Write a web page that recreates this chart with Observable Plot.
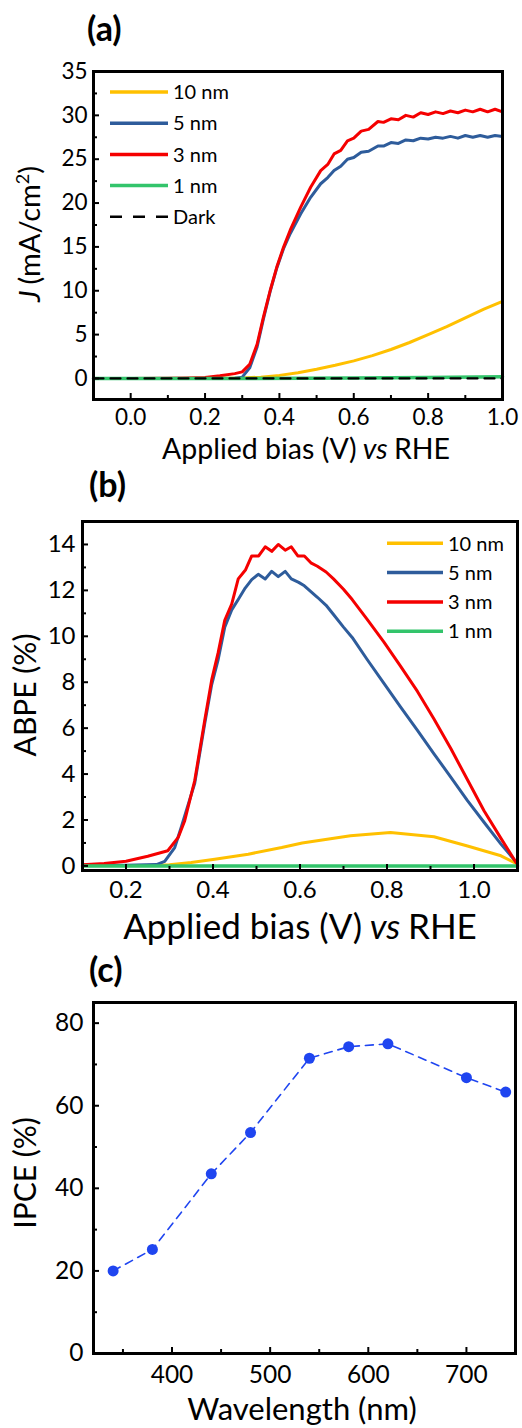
<!DOCTYPE html>
<html>
<head>
<meta charset="utf-8">
<script src="https://cdn.jsdelivr.net/npm/d3@7"></script>
<script src="https://cdn.jsdelivr.net/npm/@observablehq/plot@0.6"></script>
<style>
  body { margin: 0; background: #fff; }
  #root { position: relative; width: 522px; height: 1428px; overflow: hidden; background: #fff; }
  .panel { position: absolute; left: 0; }
</style>
</head>
<body>
<div id="root"></div>
<script>
// ---------------- Panel (a): J–V curves ----------------
const seriesNamesA = ["10 nm", "5 nm", "3 nm", "1 nm", "Dark"];
const biasA_10nm = [-0.1, 0.2, 0.3, 0.35, 0.4, 0.45, 0.5, 0.55, 0.6, 0.65, 0.7, 0.75, 0.8, 0.85, 0.9, 0.95, 1.0];
const jA_10nm    = [0, 0, 0.05, 0.15, 0.35, 0.65, 1.05, 1.5, 2.0, 2.6, 3.3, 4.1, 5.0, 5.9, 6.9, 7.9, 8.8];
const biasA_5nm = [-0.1, 0.1, 0.2, 0.28, 0.3, 0.32, 0.34, 0.357, 0.375, 0.393, 0.411, 0.429, 0.457, 0.484, 0.511, 0.53, 0.547, 0.565, 0.583, 0.6, 0.62, 0.64, 0.665, 0.68, 0.7, 0.72, 0.74, 0.76, 0.78, 0.8, 0.82, 0.84, 0.86, 0.88, 0.9, 0.92, 0.94, 0.96, 0.98, 1.0];
const jA_5nm    = [0, 0, 0, 0.02, 0.15, 1.2, 3.6, 6.8, 9.9, 12.6, 14.8, 16.5, 18.75, 20.65, 22.2, 22.9, 23.7, 24.2, 25.0, 25.2, 25.8, 25.9, 26.5, 26.5, 26.9, 26.8, 27.2, 27.1, 27.4, 27.3, 27.5, 27.4, 27.6, 27.4, 27.7, 27.5, 27.7, 27.5, 27.7, 27.6];
const biasA_3nm = [-0.1, 0.0, 0.1, 0.15, 0.2, 0.24, 0.28, 0.3, 0.32, 0.34, 0.357, 0.375, 0.393, 0.411, 0.429, 0.457, 0.484, 0.511, 0.53, 0.547, 0.565, 0.583, 0.6, 0.62, 0.64, 0.665, 0.68, 0.7, 0.72, 0.74, 0.76, 0.78, 0.8, 0.82, 0.84, 0.86, 0.88, 0.9, 0.92, 0.94, 0.96, 0.98, 1.0];
const jA_3nm    = [0, 0, 0.02, 0.05, 0.12, 0.3, 0.55, 0.75, 1.6, 3.9, 7.0, 10.0, 12.7, 14.95, 16.9, 19.5, 21.8, 23.7, 24.4, 25.6, 26.0, 27.1, 27.4, 28.2, 28.4, 29.3, 29.2, 29.6, 29.5, 30.0, 29.8, 30.3, 30.1, 30.4, 30.2, 30.5, 30.3, 30.6, 30.4, 30.7, 30.4, 30.7, 30.4];
const biasA_1nm = [-0.1, 0.3, 0.6, 0.8, 1.0];
const jA_1nm    = [0, 0, 0.05, 0.1, 0.2];
const biasA_dark = [-0.1, 1.0];
const jA_dark    = [0, 0];
const xTicksA = [0, 0.2, 0.4, 0.6, 0.8, 1.0];
const xMinorA = [-0.1, 0.1, 0.3, 0.5, 0.7, 0.9];
const yTicksA = [0, 5, 10, 15, 20, 25, 30, 35];
const yMinorA = [2.5, 7.5, 12.5, 17.5, 22.5, 27.5, 32.5];

// ---------------- Panel (b): ABPE ----------------
const seriesNamesB = ["10 nm", "5 nm", "3 nm", "1 nm"];
const biasB_10nm = [0.1, 0.25, 0.3, 0.35, 0.404, 0.481, 0.558, 0.605, 0.716, 0.808, 0.908, 0.985, 1.062, 1.1];
const abpeB_10nm = [0.02, 0.02, 0.05, 0.15, 0.29, 0.51, 0.8, 1.0, 1.31, 1.46, 1.27, 0.87, 0.44, 0.08];
const biasB_5nm = [0.1, 0.2, 0.27, 0.289, 0.312, 0.327, 0.345, 0.358, 0.381, 0.397, 0.412, 0.427, 0.443, 0.458, 0.474, 0.489, 0.504, 0.52, 0.535, 0.55, 0.566, 0.58, 0.597, 0.61, 0.625, 0.64, 0.66, 0.677, 0.7, 0.72, 0.754, 0.793, 0.831, 0.87, 0.908, 0.947, 0.985, 1.023, 1.062, 1.1];
const abpeB_5nm = [0.03, 0.03, 0.06, 0.2, 0.8, 1.68, 2.8, 3.6, 6.2, 7.9, 9.0, 10.4, 11.15, 11.6, 12.1, 12.47, 12.7, 12.5, 12.83, 12.6, 12.83, 12.5, 12.35, 12.2, 11.95, 11.7, 11.35, 10.95, 10.4, 9.95, 9.0, 7.95, 6.93, 5.9, 4.88, 3.86, 2.84, 1.9, 0.95, 0.1];
const biasB_3nm = [0.1, 0.15, 0.2, 0.25, 0.296, 0.32, 0.335, 0.358, 0.381, 0.397, 0.412, 0.427, 0.443, 0.458, 0.475, 0.489, 0.505, 0.52, 0.535, 0.55, 0.566, 0.58, 0.595, 0.61, 0.625, 0.64, 0.66, 0.677, 0.7, 0.72, 0.754, 0.793, 0.831, 0.87, 0.908, 0.947, 0.985, 1.023, 1.062, 1.1];
const abpeB_3nm = [0.05, 0.1, 0.2, 0.42, 0.66, 1.24, 1.97, 3.72, 6.34, 8.1, 9.3, 10.7, 11.4, 12.5, 12.9, 13.5, 13.5, 13.9, 13.7, 14.0, 13.75, 13.9, 13.5, 13.5, 13.2, 13.05, 12.8, 12.5, 12.05, 11.6, 10.75, 9.75, 8.7, 7.6, 6.4, 5.1, 3.75, 2.4, 1.2, 0.05];
const biasB_1nm = [0.1, 1.1];
const abpeB_1nm = [0, 0];
const xTicksB = [0.2, 0.4, 0.6, 0.8, 1.0];
const xMinorB = [0.3, 0.5, 0.7, 0.9];
const yTicksB = [0, 2, 4, 6, 8, 10, 12, 14];
const yMinorB = [1, 3, 5, 7, 9, 11, 13];

// ---------------- Panel (c): IPCE ----------------
const wavelengthC = [340, 380, 440, 480, 540, 580, 620, 700, 740];
const ipceC       = [20, 25.2, 43.5, 53.5, 71.5, 74.3, 75, 66.8, 63.3];
const xTicksC = [400, 500, 600, 700];
const xMinorC = [350, 450, 550, 650, 750];
const yTicksC = [0, 20, 40, 60, 80];
const yMinorC = [10, 30, 50, 70];

// ---------------- styling ----------------
const FONT = "Lato, 'Open Sans', sans-serif";
const YELLOW = "#FFC000", BLUE = "#2E5C9B", RED = "#F50000", GREEN = "#33C46B", DARK = "#000000";
const DOTBLUE = "#1F45F0";

const rows = (xs, ys) => xs.map((x, i) => ({x, y: ys[i]}));

function axes({xTicks, xMinor, yTicks, yMinor, xFormat, fontSize, xPad, yPad}) {
  return [
    Plot.axisX({ticks: xTicks, tickFormat: xFormat, tickSize: 0, tickPadding: xPad, fontSize, fontFamily: FONT, label: null, anchor: "bottom"}),
    Plot.axisX({ticks: xTicks, tickSize: -6, fill: "none", strokeWidth: 2, label: null, anchor: "bottom"}),
    Plot.axisX({ticks: xMinor, tickSize: -4, fill: "none", strokeWidth: 2, label: null, anchor: "bottom"}),
    Plot.axisY({ticks: yTicks, tickFormat: d3.format("d"), tickSize: 0, tickPadding: yPad, fontSize, fontFamily: FONT, label: null, anchor: "left"}),
    Plot.axisY({ticks: yTicks, tickSize: -6, fill: "none", strokeWidth: 2, label: null, anchor: "left"}),
    Plot.axisY({ticks: yMinor, tickSize: -4, fill: "none", strokeWidth: 2, label: null, anchor: "left"}),
    Plot.frame({stroke: "black", strokeWidth: 3})
  ];
}

// Multi-part label: each part is its own <text>, laid out one after another.
function addText(svg, {x, y, size, rotate = false, weight = "normal", anchor = "middle", parts}) {
  const g = d3.select(svg).append("g")
    .attr("transform", rotate ? `translate(${x},${y}) rotate(-90)` : `translate(${x},${y})`);
  let cx = 0;
  const nodes = [];
  parts.forEach(p => {
    const fs = p.sup ? size * 0.62 : size;
    const t = g.append("text")
      .attr("x", cx).attr("y", p.sup ? -size * 0.38 : 0)
      .attr("font-family", FONT).attr("font-size", fs).attr("font-weight", weight)
      .attr("font-style", p.i ? "italic" : "normal")
      .attr("text-anchor", "start").attr("fill", "black")
      .text(p.t);
    cx += t.node().getComputedTextLength() + (p.after || 0) * size;
    nodes.push(t);
  });
  const shift = anchor === "middle" ? -cx / 2 : 0;
  nodes.forEach(t => t.attr("x", +t.attr("x") + shift));
}

function addLegend(svg, items, {x1, x2, tx, y0, dy, size}) {
  const g = d3.select(svg).append("g");
  items.forEach((it, i) => {
    const y = y0 + i * dy;
    g.append("line").attr("x1", x1).attr("x2", x2).attr("y1", y).attr("y2", y)
      .attr("stroke", it.color).attr("stroke-width", it.dash ? 2.5 : 3.5)
      .attr("stroke-dasharray", it.dash || null);
    g.append("text").attr("x", tx).attr("y", y).attr("dy", "0.36em")
      .attr("text-anchor", "start")
      .attr("font-family", FONT).attr("font-size", size).attr("fill", "black").text(it.name);
  });
}

const root = document.getElementById("root");
function place(svg, top) {
  svg.classList.add("panel");
  svg.style.top = top + "px";
  root.appendChild(svg);
}

// ----- Panel (a)
const svgA = Plot.plot({
  width: 522, height: 470,
  marginTop: 71, marginBottom: 71, marginLeft: 93, marginRight: 20,
  style: {background: "white", color: "black", overflow: "visible"},
  x: {domain: [-0.1, 1.0]},
  y: {domain: [-2.4, 35]},
  marks: [
    Plot.line(rows(biasA_10nm, jA_10nm), {x: "x", y: "y", stroke: YELLOW, strokeWidth: 3}),
    Plot.line(rows(biasA_5nm, jA_5nm), {x: "x", y: "y", stroke: BLUE, strokeWidth: 3}),
    Plot.line(rows(biasA_3nm, jA_3nm), {x: "x", y: "y", stroke: RED, strokeWidth: 3}),
    Plot.line(rows(biasA_1nm, jA_1nm), {x: "x", y: "y", stroke: GREEN, strokeWidth: 3.5}),
    Plot.line(rows(biasA_dark, jA_dark), {x: "x", y: "y", stroke: DARK, strokeWidth: 2.2, strokeDasharray: "10,7"}),
    ...axes({xTicks: xTicksA, xMinor: xMinorA, yTicks: yTicksA, yMinor: yMinorA, xFormat: d3.format(".1f"), fontSize: 22.5, xPad: 10, yPad: 6})
  ]
});
place(svgA, 0);
addText(svgA, {x: 87, y: 41, size: 34, weight: "bold", anchor: "start", parts: [{t: "(a)"}]});
addText(svgA, {x: 306, y: 459, size: 28.5, parts: [{t: "Applied bias (V)", after: 0.22}, {t: "vs", i: true, after: 0.22}, {t: "RHE"}]});
addText(svgA, {x: 40, y: 234, size: 29, rotate: true, parts: [{t: "J", i: true, after: 0.2}, {t: "(mA/cm"}, {t: "2", sup: true}, {t: ")"}]});
addLegend(svgA, [
  {name: seriesNamesA[0], color: YELLOW},
  {name: seriesNamesA[1], color: BLUE},
  {name: seriesNamesA[2], color: RED},
  {name: seriesNamesA[3], color: GREEN},
  {name: seriesNamesA[4], color: DARK, dash: "12,11"}
], {x1: 110, x2: 168, tx: 173, y0: 92, dy: 31.2, size: 20});

// ----- Panel (b)
const svgB = Plot.plot({
  width: 522, height: 480,
  marginTop: 51, marginBottom: 80, marginLeft: 82, marginRight: 5,
  style: {background: "white", color: "black", overflow: "visible"},
  x: {domain: [0.1, 1.1]},
  y: {domain: [-0.2, 15]},
  marks: [
    Plot.line(rows(biasB_10nm, abpeB_10nm), {x: "x", y: "y", stroke: YELLOW, strokeWidth: 3}),
    Plot.line(rows(biasB_5nm, abpeB_5nm), {x: "x", y: "y", stroke: BLUE, strokeWidth: 3}),
    Plot.line(rows(biasB_3nm, abpeB_3nm), {x: "x", y: "y", stroke: RED, strokeWidth: 3}),
    Plot.line(rows(biasB_1nm, abpeB_1nm), {x: "x", y: "y", stroke: GREEN, strokeWidth: 3.5}),
    ...axes({xTicks: xTicksB, xMinor: xMinorB, yTicks: yTicksB, yMinor: yMinorB, xFormat: d3.format(".1f"), fontSize: 24, xPad: 10, yPad: 7})
  ]
});
place(svgB, 470);
addText(svgB, {x: 89, y: 27, size: 34, weight: "bold", anchor: "start", parts: [{t: "(b)"}]});
addText(svgB, {x: 300, y: 469, size: 35, parts: [{t: "Applied bias (V)", after: 0.22}, {t: "vs", i: true, after: 0.22}, {t: "RHE"}]});
addText(svgB, {x: 36, y: 225, size: 30, rotate: true, parts: [{t: "ABPE (%)"}]});
addLegend(svgB, [
  {name: seriesNamesB[0], color: YELLOW},
  {name: seriesNamesB[1], color: BLUE},
  {name: seriesNamesB[2], color: RED},
  {name: seriesNamesB[3], color: GREEN}
], {x1: 387, x2: 443, tx: 448, y0: 73.3, dy: 29.3, size: 20});

// ----- Panel (c)
const svgC = Plot.plot({
  width: 522, height: 478,
  marginTop: 52, marginBottom: 75, marginLeft: 93, marginRight: 7,
  style: {background: "white", color: "black", overflow: "visible"},
  x: {domain: [320, 750]},
  y: {domain: [0, 85]},
  marks: [
    Plot.line(rows(wavelengthC, ipceC), {x: "x", y: "y", stroke: DOTBLUE, strokeWidth: 1.6, strokeDasharray: "8,6"}),
    Plot.dot(rows(wavelengthC, ipceC), {x: "x", y: "y", r: 5.5, fill: DOTBLUE}),
    ...axes({xTicks: xTicksC, xMinor: xMinorC, yTicks: yTicksC, yMinor: yMinorC, xFormat: d3.format("d"), fontSize: 24.5, xPad: 12, yPad: 10})
  ]
});
place(svgC, 950);
addText(svgC, {x: 89, y: 31.5, size: 34, weight: "bold", anchor: "start", parts: [{t: "(c)"}]});
addText(svgC, {x: 302, y: 470, size: 31, parts: [{t: "Wavelength (nm)"}]});
addText(svgC, {x: 36, y: 223, size: 30, rotate: true, parts: [{t: "IPCE (%)"}]});
</script>
</body>
</html>
